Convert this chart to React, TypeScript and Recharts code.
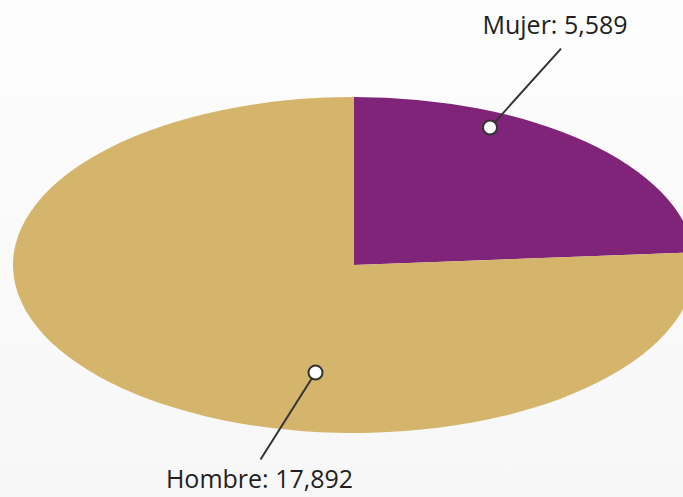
import { Cell, Pie, PieChart } from "recharts";

const labels = ["Mujer", "Hombre"];
const values = [5589, 17892];
const colors = ["#7f2479", "#d4b56b"];

// vertical squash of the pie into an ellipse
const SQUASH = 168 / 341;
const CX = 354;
const CY = 265;
const R = 341;

// where each callout sits: angle / radius fraction in the unsquashed pie,
// then offsets for the leader line end and the text
const callouts = [
  { angle: 64, frac: 0.91, lineDx: 71, lineDy: -79, textDx: 65, textDy: -94 },
  { angle: 260, frac: 0.65, lineDx: -55, lineDy: 87, textDx: -56, textDy: 115 },
];

const data = labels.map((name, i) => ({ name, value: values[i] }));

function Callout(props: any) {
  const { cx, cy, outerRadius, index, name, value } = props;
  const c = callouts[index];
  const rad = (c.angle * Math.PI) / 180;
  const x = cx + outerRadius * c.frac * Math.cos(rad);
  const y = cy - outerRadius * c.frac * Math.sin(rad) * SQUASH;
  return (
    <g>
      <line
        x1={x}
        y1={y}
        x2={x + c.lineDx}
        y2={y + c.lineDy}
        stroke="#333"
        strokeWidth={2}
      />
      <circle cx={x} cy={y} r={7} fill="#fff" stroke="#333" strokeWidth={2} />
      <text
        x={x + c.textDx}
        y={y + c.textDy}
        textAnchor="middle"
        fontSize={25}
        fontFamily="'Open Sans', sans-serif"
        fill="#231f20"
      >
        {`${name}: ${value.toLocaleString("en-US")}`}
      </text>
    </g>
  );
}

export default function App() {
  return (
    <div
      style={{
        position: "absolute",
        left: 0,
        top: 0,
        width: 683,
        height: 497,
        background: "linear-gradient(#fdfdfd, #f7f7f7)",
        overflow: "hidden",
      }}
    >
      <style>{`
        .squash .recharts-pie-sector path {
          transform: matrix(1, 0, 0, ${SQUASH}, 0, ${CY * (1 - SQUASH)});
        }
      `}</style>
      <PieChart width={683} height={497} className="squash" margin={{ top: 0, right: 0, bottom: 0, left: 0 }}>
        <Pie
          data={data}
          dataKey="value"
          nameKey="name"
          cx={CX}
          cy={CY}
          outerRadius={R}
          startAngle={90}
          endAngle={-270}
          stroke="none"
          label={Callout}
          labelLine={false}
          isAnimationActive={false}
        >
          {data.map((d, i) => (
            <Cell key={d.name} fill={colors[i]} />
          ))}
        </Pie>
      </PieChart>
    </div>
  );
}
